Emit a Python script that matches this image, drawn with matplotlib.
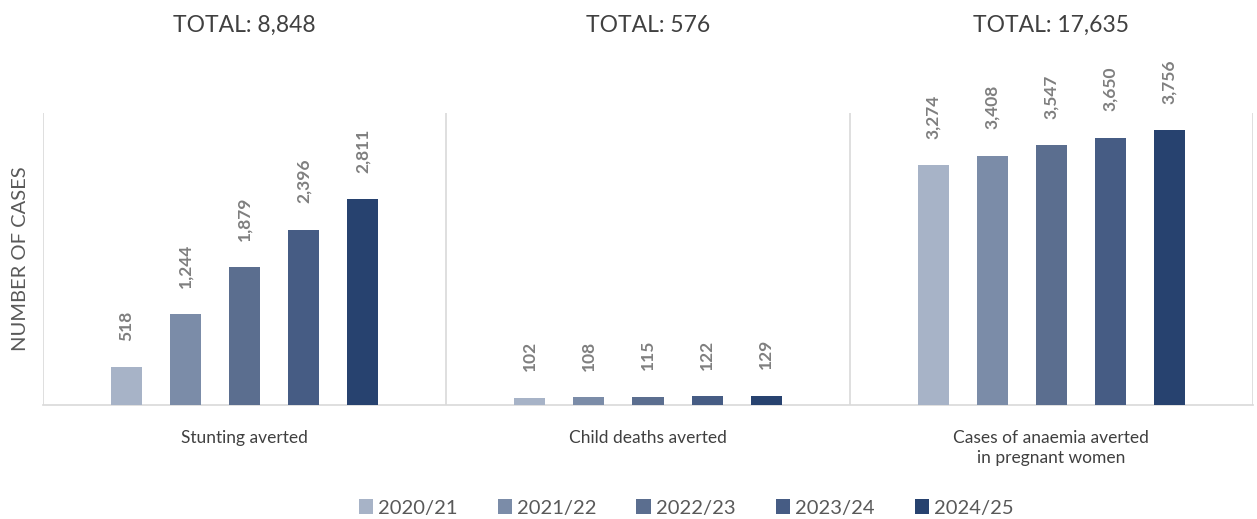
import matplotlib
matplotlib.use("Agg")
import matplotlib.pyplot as plt
import numpy as np

categories = ["Stunting averted", "Child deaths averted", "Cases of anaemia averted\nin pregnant women"]
years = ["2020/21", "2021/22", "2022/23", "2023/24", "2024/25"]
values = {
    "2020/21": [518, 102, 3274],
    "2021/22": [1244, 108, 3408],
    "2022/23": [1879, 115, 3547],
    "2023/24": [2396, 122, 3650],
    "2024/25": [2811, 129, 3756],
}
totals = ["TOTAL: 8,848", "TOTAL: 576", "TOTAL: 17,635"]
colors = ["#A7B3C7", "#7B8CA8", "#5B6E8F", "#465C84", "#27426F"]

plt.rcParams['font.family'] = ['Lato', 'DejaVu Sans']

fig = plt.figure(figsize=(12.57, 5.19), dpi=100)
ax = fig.add_axes([43/1257, 1-405/519, (1253-43)/1257, (405-113)/519])

x = np.arange(len(categories))
step = 0.1464
width = 0.077
for i, yr in enumerate(years):
    xs = x + (i - 2) * step
    bars = ax.bar(xs, values[yr], width=width, color=colors[i], label=yr, zorder=3)
    for b, v in zip(bars, values[yr]):
        ax.annotate(f"{v:,}", (b.get_x() + b.get_width()/2, b.get_height()),
                    xytext=(0, 19), textcoords="offset points",
                    rotation=90, ha="center", va="bottom",
                    fontsize=12.5, color="#7F7F7F", fontweight="bold")

ax.set_xlim(-0.5, 2.5)
ax.set_ylim(0, 3990)
for xv in [-0.5, 0.5, 1.5, 2.5]:
    ax.axvline(xv, color="#D9D9D9", lw=1.2, zorder=1)
for s in ["top", "right", "left"]:
    ax.spines[s].set_visible(False)
ax.spines["bottom"].set_color("#D9D9D9")
ax.spines["bottom"].set_linewidth(1.2)
ax.set_yticks([])
ax.set_xticks(x)
ax.set_xticklabels(categories, fontsize=12.5, color="#404040", linespacing=1.3)
ax.tick_params(axis="x", length=0, pad=18)
ax.set_ylabel("NUMBER OF CASES", fontsize=14.5, color="#595959", labelpad=10)

for xi, t in zip(x, totals):
    fig.text((43 + (xi + 0.5) * (1210/3)) / 1257, 1 - 25/519, t,
             ha="center", va="center", fontsize=16.5, color="#404040")

fig.legend(loc="center", bbox_to_anchor=(686/1257, 1 - 508/519), ncol=5,
           frameon=False, fontsize=14.5, labelcolor="#595959",
           handlelength=0.7, handleheight=0.7, handletextpad=0.25,
           columnspacing=2.0)

fig.savefig("out.png", dpi=100)
